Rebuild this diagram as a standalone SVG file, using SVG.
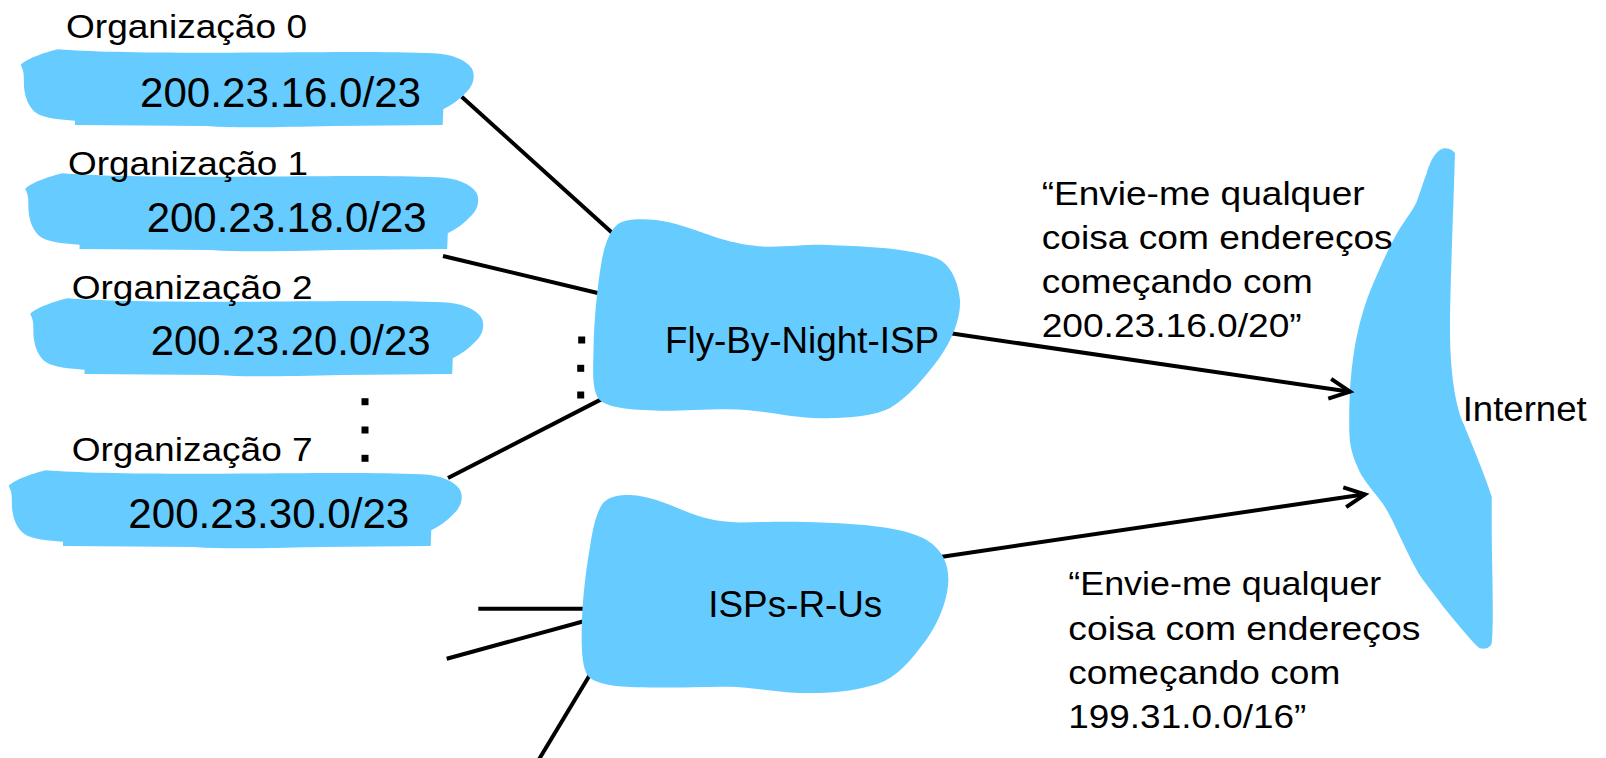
<svg xmlns="http://www.w3.org/2000/svg" xmlns:xlink="http://www.w3.org/1999/xlink" width="1606" height="758" viewBox="0 0 1606 758">
  <style>
    .cloud { fill: #66CCFF; stroke: none; }
    .link { stroke: #000; stroke-width: 4; fill: none; }
    .dot { fill: #000; }
    text { font-family: "Liberation Sans", Arial, sans-serif; fill: #000; }
    .lbl { font-size: 34px; }
    .net { font-size: 42px; }
    .isp { font-size: 36px; }
    .ann { font-size: 33px; }
  </style>
  <defs>
    <!-- flat brush-stroke shape used for every organisation network -->
    <path id="orgCloud" d="M 20.7,65 C 24,60 45,52 58.3,49.3 C 90,52 150,53 233,52.7 S 380,51 433.3,53.3 C 452,54 466,60 471.7,68.3 C 476,76 473,86 466.7,91.7 C 460,99 452,105 443.3,109.3 L 442.7,125 L 333,126 C 280,127 240,128.5 206.7,126 L 75,125 L 75,120.7 C 60,120 44,118 36.7,113.3 C 29,108 25,98 24,86.7 C 23.5,78 25,73 20.7,65 Z"/>
    <marker id="openArrow" markerUnits="userSpaceOnUse" viewBox="-26 -14 30 28" refX="-3" refY="0" markerWidth="30" markerHeight="28" orient="auto" overflow="visible">
      <path d="M -23.5,-10 L -3,0 L -23.5,10" fill="none" stroke="#000" stroke-width="4"/>
    </marker>
  </defs>

  <!-- backbone -->
  <g id="internet">
    <path class="cloud" d="M 1445,148.3 C 1450,148.5 1453,150.5 1455,153.3 C 1453,220 1450,290 1450,330 C 1450,370 1455,405 1463.3,423.3 C 1470,440 1485,475 1491.7,496.7 L 1491.7,530 C 1492,570 1494,620 1491.7,643.3 C 1491,647 1486,650 1480,648.3 C 1474,644 1460,627 1443.3,606.7 C 1430,588 1422,580 1416.7,570 C 1410,558 1405,547 1400,536.7 C 1393,522 1388,510 1380,500 C 1370,487 1362,478 1358,468 C 1352,455 1349.5,445 1349.3,430 C 1349,400 1350,380 1353.3,356.7 C 1357,330 1364,305 1373.3,283.3 C 1380,268 1386,254 1393.3,240 C 1402,223 1412,212 1416.7,201.7 C 1421,190 1424,180 1426.7,173.3 C 1430,162 1436,149 1445,148.3 Z"/>
    <text x="1462.7" y="421" font-size="35" textLength="124" lengthAdjust="spacingAndGlyphs">Internet</text>
  </g>

  <!-- links between networks -->
  <g id="connectors">
    <line class="link" x1="461.7" y1="96.7" x2="619" y2="239"/>
    <line class="link" x1="443" y1="256" x2="606" y2="295"/>
    <line class="link" x1="448" y1="478" x2="607" y2="396.4"/>
    <line class="link" x1="478.3" y1="608.7" x2="592" y2="608.7"/>
    <line class="link" x1="446.7" y1="658.7" x2="592" y2="619"/>
    <line class="link" x1="594" y1="668" x2="538" y2="761"/>
    <line class="link" x1="947" y1="332.8" x2="1350" y2="391.7" marker-end="url(#openArrow)"/>
    <line class="link" x1="933.8" y1="557.9" x2="1365" y2="494.3" marker-end="url(#openArrow)"/>
    <rect class="dot" x="578.2" y="336.5" width="7" height="7"/>
    <rect class="dot" x="577.2" y="364.8" width="7" height="7"/>
    <rect class="dot" x="577.2" y="391.5" width="7" height="7"/>
    <rect class="dot" x="361.5" y="398.2" width="7" height="7"/>
    <rect class="dot" x="361.5" y="426.5" width="7" height="7"/>
    <rect class="dot" x="361.5" y="454.8" width="7" height="7"/>
  </g>

  <g id="org0">
    <use xlink:href="#orgCloud" class="cloud"/>
    <text class="lbl" x="66" y="38.3" textLength="241" lengthAdjust="spacingAndGlyphs">Organização 0</text>
    <text class="net" x="140" y="106.7" textLength="281" lengthAdjust="spacingAndGlyphs">200.23.16.0/23</text>
  </g>

  <g id="org1">
    <use xlink:href="#orgCloud" class="cloud" transform="translate(4.5,124)"/>
    <text class="lbl" x="68" y="175" textLength="240" lengthAdjust="spacingAndGlyphs">Organização 1</text>
    <text class="net" x="146.7" y="231.7" textLength="280" lengthAdjust="spacingAndGlyphs">200.23.18.0/23</text>
  </g>

  <g id="org2">
    <use xlink:href="#orgCloud" class="cloud" transform="translate(9.5,249)"/>
    <text class="lbl" x="71.7" y="299.3" textLength="241" lengthAdjust="spacingAndGlyphs">Organização 2</text>
    <text class="net" x="150.7" y="355" textLength="280" lengthAdjust="spacingAndGlyphs">200.23.20.0/23</text>
  </g>

  <g id="org7">
    <use xlink:href="#orgCloud" class="cloud" transform="translate(-12,421)"/>
    <text class="lbl" x="71.7" y="460.7" textLength="241" lengthAdjust="spacingAndGlyphs">Organização 7</text>
    <text class="net" x="128.3" y="528.3" textLength="281" lengthAdjust="spacingAndGlyphs">200.23.30.0/23</text>
  </g>

  <g id="fly-by-night-isp">
    <path class="cloud" d="M 640,219.3 C 660,219 675,223 700,231.7 C 715,237 735,245 766.7,246.7 C 790,247 810,244 826.7,245 C 860,246 910,248 936.7,258.3 C 950,264 958,280 960,300 C 961,318 952,340 940,357 C 925,378 905,400 890,408 C 870,418 840,418 820,418.3 C 790,418 760,409 726.7,409.3 C 700,409.5 680,411 660,410.7 C 630,410 605,408 598,398 C 592,388 593,370 593.5,350 C 594,320 597,290 601,265 C 604,245 610,230 618,224 C 625,220 632,219.5 640,219.3 Z"/>
    <text class="isp" x="665" y="352.7" textLength="274" lengthAdjust="spacingAndGlyphs">Fly-By-Night-ISP</text>
  </g>

  <g id="isps-r-us">
    <path class="cloud" d="M 630,495 C 650,496 665,503 685,511 C 700,517 715,522 740,522.5 C 765,522 790,521 826.7,522.7 C 860,524 905,527 926.7,540 C 943,550 949,565 948.3,582 C 947,605 935,630 920,648 C 905,668 890,682 870,686 C 850,692 826,693.5 800,693 C 770,692 750,686.5 726.7,686.7 C 700,687 660,688 640,687.3 C 615,687 595,684 588,676 C 582,667 581.5,650 581.7,630 C 582,605 585,575 590,546.7 C 593,528 596,513 603,503 C 610,496 618,495 630,495 Z"/>
    <text class="isp" x="708.3" y="616.7" textLength="174" lengthAdjust="spacingAndGlyphs">ISPs-R-Us</text>
  </g>

  <g id="advert-fly-by-night">
    <text class="ann" x="1041.7" y="205" textLength="323" lengthAdjust="spacingAndGlyphs">“Envie-me qualquer</text>
    <text class="ann" x="1041.7" y="249.3" textLength="351" lengthAdjust="spacingAndGlyphs">coisa com endereços</text>
    <text class="ann" x="1041.7" y="292.7" textLength="271" lengthAdjust="spacingAndGlyphs">começando com</text>
    <text class="ann" x="1041.7" y="336.7" textLength="260" lengthAdjust="spacingAndGlyphs">200.23.16.0/20”</text>
  </g>

  <g id="advert-isps-r-us">
    <text class="ann" x="1068.3" y="595" textLength="313" lengthAdjust="spacingAndGlyphs">“Envie-me qualquer</text>
    <text class="ann" x="1068.3" y="640" textLength="352" lengthAdjust="spacingAndGlyphs">coisa com endereços</text>
    <text class="ann" x="1068.3" y="684" textLength="272" lengthAdjust="spacingAndGlyphs">começando com</text>
    <text class="ann" x="1068.3" y="728.3" textLength="238" lengthAdjust="spacingAndGlyphs">199.31.0.0/16”</text>
  </g>
</svg>
